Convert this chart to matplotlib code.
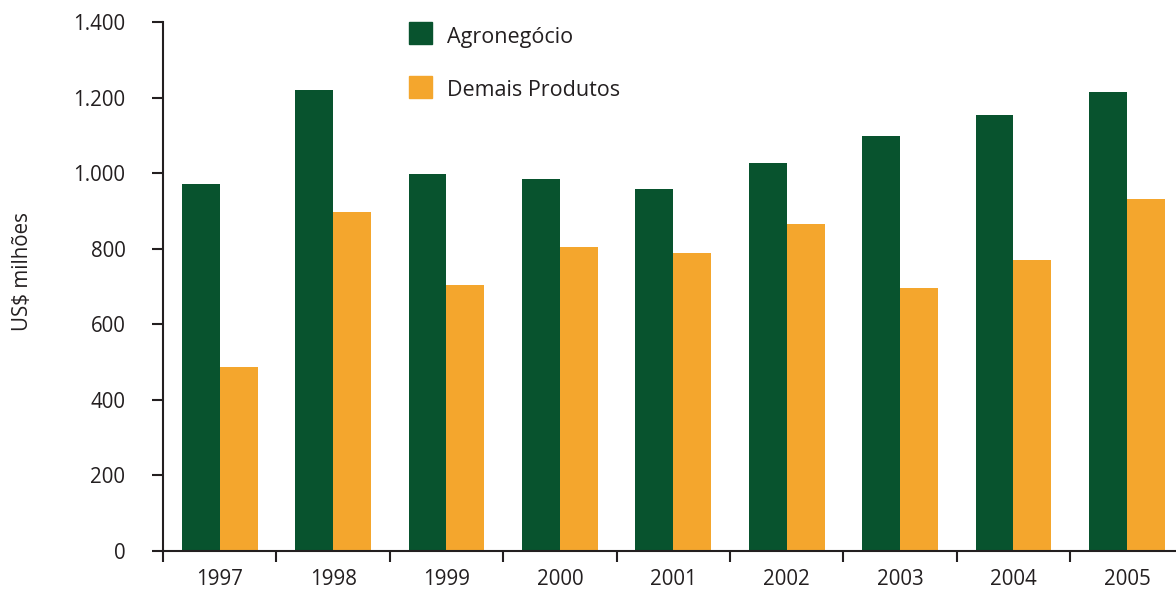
import matplotlib
matplotlib.use("Agg")
import matplotlib.pyplot as plt
from matplotlib.patches import Rectangle
from matplotlib.ticker import FuncFormatter
import numpy as np

years = ["1997", "1998", "1999", "2000", "2001", "2002", "2003", "2004", "2005"]
agronegocio = [971, 1220, 998, 984, 958, 1027, 1098, 1153, 1214]
demais = [487, 897, 704, 804, 788, 865, 696, 770, 931]
series_names = ["Agronegócio", "Demais Produtos"]
y_ticks = [0, 200, 400, 600, 800, 1000, 1200, 1400]

GREEN = "#08532E"
ORANGE = "#F4A62D"
INK = "#231F20"

plt.rcParams['font.family'] = ['Open Sans', 'DejaVu Sans']

W, H = 1176, 590
fig = plt.figure(figsize=(W / 100, H / 100), dpi=100)
left, right, bottom, top = 163, 1183.6, 551, 22
ax = fig.add_axes([left / W, (H - bottom) / H, (right - left) / W, (bottom - top) / H])

x = np.arange(len(years))
w = 0.335
ax.bar(x - w / 2, agronegocio, width=w, color=GREEN, label=series_names[0])
ax.bar(x + w / 2, demais, width=w, color=ORANGE, label=series_names[1])

ax.set_xlim(-0.5, len(years) - 0.5)
ax.set_ylim(0, 1400)

for s in ["top", "right"]:
    ax.spines[s].set_visible(False)
for s in ["left", "bottom"]:
    ax.spines[s].set_color(INK)
    ax.spines[s].set_linewidth(1.5)

FS = 14.8
ax.set_yticks(y_ticks)
ax.yaxis.set_major_formatter(FuncFormatter(lambda v, p: f"{int(v):,}".replace(",", ".")))
ax.tick_params(axis="y", direction="out", length=8, width=1.5, color=INK,
               labelsize=FS, labelcolor=INK, pad=19)

ax.set_xticks(x)
ax.set_xticklabels(years)
ax.set_xticks(np.arange(-0.5, len(years), 1.0), minor=True)
ax.tick_params(axis="x", which="major", length=0, labelsize=FS, labelcolor=INK, pad=13)
ax.tick_params(axis="x", which="minor", direction="out", length=8, width=1.5, color=INK)

fig.text(23 / W, 1 - 272 / H, "US$ milhões", rotation=90, ha="center", va="center",
         fontsize=FS, color=INK)

# legend
for i, (name, col) in enumerate(zip(series_names, [GREEN, ORANGE])):
    y0 = 22 + i * 54
    fig.add_artist(Rectangle((409 / W, 1 - (y0 + 22) / H), 23 / W, 22 / H,
                             transform=fig.transFigure, color=col))
    fig.text(447 / W, 1 - (y0 + 15) / H, name, ha="left", va="center",
             fontsize=15.5, color=INK)

fig.savefig("out.png", dpi=100)
